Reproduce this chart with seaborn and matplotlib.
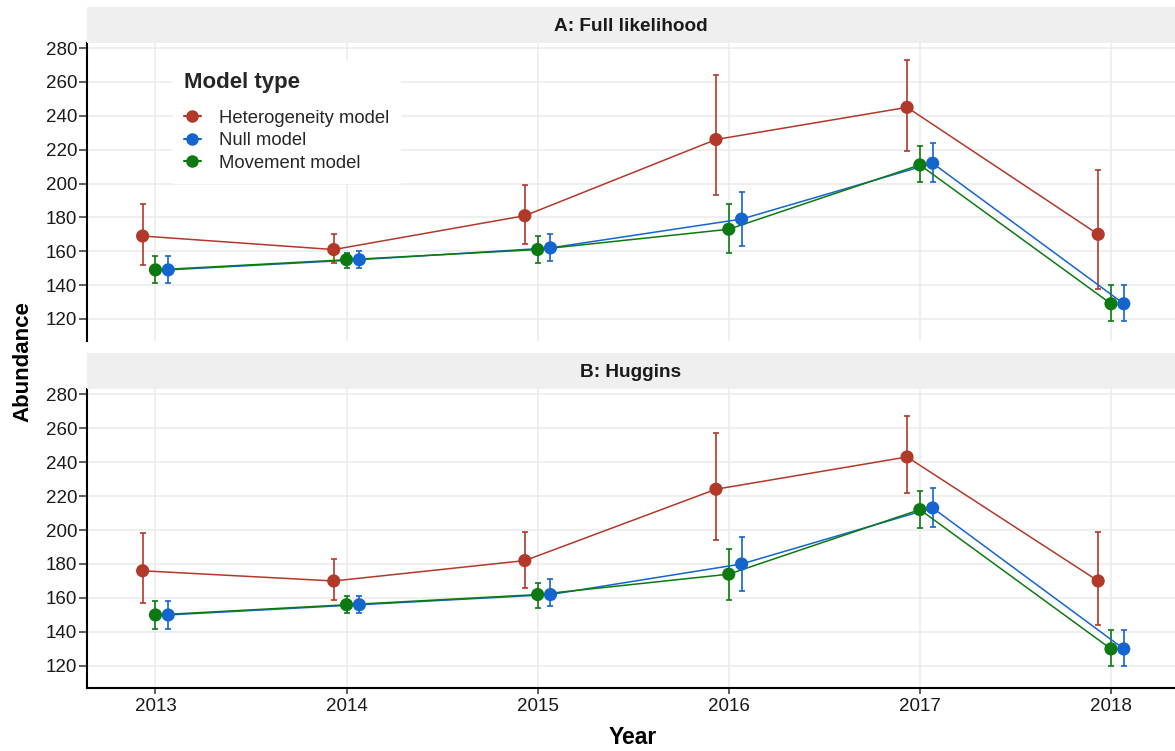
import numpy as np
import pandas as pd
import matplotlib
matplotlib.use("Agg")
import matplotlib.pyplot as plt
from matplotlib.lines import Line2D
import seaborn as sns

# Abundance estimates with 95% confidence limits by year and model type
years = [2013, 2014, 2015, 2016, 2017, 2018]
models = ["Heterogeneity model", "Null model", "Movement model"]
panels = ["A: Full likelihood", "B: Huggins"]

full_het_est = [169, 161, 181, 226, 245, 170]
full_het_lo = [152, 153, 164, 193, 219, 138]
full_het_hi = [188, 170, 199, 264, 273, 208]

full_null_est = [149, 155, 162, 179, 212, 129]
full_null_lo = [141, 150, 154, 163, 201, 119]
full_null_hi = [157, 160, 170, 195, 224, 140]

full_move_est = [149, 155, 161, 173, 211, 129]
full_move_lo = [141, 150, 153, 159, 201, 119]
full_move_hi = [157, 159, 169, 188, 222, 140]

hug_het_est = [176, 170, 182, 224, 243, 170]
hug_het_lo = [157, 159, 166, 194, 222, 144]
hug_het_hi = [198, 183, 199, 257, 267, 199]

hug_null_est = [150, 156, 162, 180, 213, 130]
hug_null_lo = [142, 151, 155, 164, 202, 120]
hug_null_hi = [158, 161, 171, 196, 225, 141]

hug_move_est = [150, 156, 162, 174, 212, 130]
hug_move_lo = [142, 151, 154, 159, 201, 120]
hug_move_hi = [158, 161, 169, 189, 223, 141]

series = {
    (panels[0], models[0]): (full_het_est, full_het_lo, full_het_hi),
    (panels[0], models[1]): (full_null_est, full_null_lo, full_null_hi),
    (panels[0], models[2]): (full_move_est, full_move_lo, full_move_hi),
    (panels[1], models[0]): (hug_het_est, hug_het_lo, hug_het_hi),
    (panels[1], models[1]): (hug_null_est, hug_null_lo, hug_null_hi),
    (panels[1], models[2]): (hug_move_est, hug_move_lo, hug_move_hi),
}

rows = []
for (panel, model), (est, lo, hi) in series.items():
    for y, e, l, h in zip(years, est, lo, hi):
        rows.append(dict(panel=panel, model=model, year=y, est=e, lo=l, hi=h))
df = pd.DataFrame(rows)

# dodge the three model types horizontally
dodge = {"Heterogeneity model": -0.067, "Movement model": 0.0, "Null model": 0.067}
df["x"] = df["year"] + df["model"].map(dodge)

palette = {"Heterogeneity model": "#B2382A",
           "Null model": "#1565CF",
           "Movement model": "#0C7A10"}

sns.set_theme(style="white")
plt.rcParams["font.family"] = ["Liberation Sans", "DejaVu Sans"]

W, H = 1175, 751
fig = plt.figure(figsize=(W / 100, H / 100), dpi=100)

def frac(x0, y0, x1, y1):
    return [x0 / W, 1 - y1 / H, (x1 - x0) / W, (y1 - y0) / H]

axes_px = [(87, 43, 1175, 341), (87, 389, 1175, 688)]
strip_px = [(87, 7, 1175, 43), (87, 353, 1175, 389)]

draw_order = ["Heterogeneity model", "Null model", "Movement model"]

for i, panel in enumerate(panels):
    ax = fig.add_axes(frac(*axes_px[i]))
    sub = df[df["panel"] == panel]
    for model in draw_order:
        d = sub[sub["model"] == model]
        ax.errorbar(d["x"], d["est"], yerr=[d["est"] - d["lo"], d["hi"] - d["est"]],
                    fmt="none", ecolor=palette[model], elinewidth=1.2,
                    capsize=2.4, capthick=1.2, zorder=3)
    sns.lineplot(data=sub, x="x", y="est", hue="model", hue_order=draw_order,
                 palette=palette, linewidth=1.1, legend=False,
                 sort=True, ax=ax, zorder=4)
    sns.scatterplot(data=sub, x="x", y="est", hue="model", hue_order=draw_order,
                    palette=palette, s=90, linewidth=0, legend=False,
                    ax=ax, zorder=5)

    ax.set_xlim(2012.642, 2018.335)
    ax.set_ylim(107, 283)
    ax.set_yticks(np.arange(120, 281, 20))
    ax.set_xticks(years)
    ax.grid(True, color="#EBEBEB", linewidth=1.1)
    ax.set_axisbelow(True)
    for s in ["top", "right"]:
        ax.spines[s].set_visible(False)
    ax.spines["left"].set_color("black")
    ax.spines["left"].set_linewidth(1.5)
    ax.set_xlabel("")
    ax.set_ylabel("")
    ax.tick_params(axis="y", left=True, length=5.5, width=1.1, color="#333333",
                   labelsize=13.5, labelcolor="#1a1a1a", pad=1.5)
    if i == 0:
        ax.spines["bottom"].set_visible(False)
        ax.tick_params(axis="x", bottom=False, labelbottom=False)
    else:
        ax.spines["bottom"].set_color("black")
        ax.spines["bottom"].set_linewidth(1.5)
        ax.tick_params(axis="x", bottom=True, length=4, width=1.1, color="#333333",
                       labelsize=13.5, labelcolor="#1a1a1a", pad=3)
        ax.set_xticklabels([str(y) for y in years])

    # facet strip
    sax = fig.add_axes(frac(*strip_px[i]))
    sax.set_facecolor("#EFEFEF")
    sax.set_xticks([])
    sax.set_yticks([])
    for s in sax.spines.values():
        s.set_visible(False)
    sax.text(0.5, 0.47, panel, ha="center", va="center", fontsize=13.7,
             fontweight="bold", color="#1a1a1a", transform=sax.transAxes)

    if i == 0:
        handles = [Line2D([0], [0], color=palette[m], marker="o", markersize=8,
                          linewidth=1.5) for m in models]
        leg = ax.legend(handles, models, title="Model type", loc="upper left",
                        bbox_to_anchor=(0.079, 0.94), frameon=True, fontsize=13.3,
                        title_fontproperties={"weight": "bold", "size": 16},
                        handlelength=0.9, handletextpad=1.0, labelspacing=0.3,
                        borderpad=0.6, alignment="left", borderaxespad=0)
        leg.get_frame().set_facecolor("white")
        leg.get_frame().set_edgecolor("white")
        leg.get_frame().set_alpha(1)
        leg.get_frame().set_boxstyle("square", pad=0)
        leg._legend_box.sep = 12

fig.text(23 / W, 1 - 362 / H, "Abundance", rotation=90, ha="center", va="center",
         fontsize=16, fontweight="bold", color="black")
fig.text(633 / W, 1 - 738 / H, "Year", ha="center", va="center",
         fontsize=16.5, fontweight="bold", color="black")

fig.savefig("out.png", dpi=100, facecolor="white")
